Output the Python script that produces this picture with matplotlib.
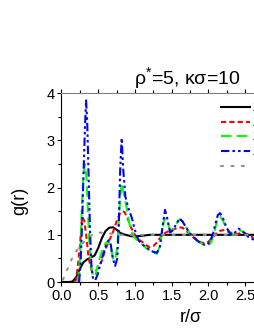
import matplotlib
matplotlib.use("Agg")
import matplotlib.pyplot as plt
from matplotlib.ticker import MultipleLocator, FormatStrFormatter

plt.rcParams['font.family'] = ['Liberation Sans', 'DejaVu Sans']
plt.rcParams['mathtext.fontset'] = 'custom'
plt.rcParams['mathtext.rm'] = 'Liberation Sans'

labels = ["Z=1", "Z=2", "Z=3", "Z=4", "HNC"]

x_black = [0, 0.1, 0.15, 0.2, 0.25, 0.3, 0.35, 0.4, 0.45, 0.5, 0.55, 0.6, 0.65, 0.7, 0.75,
           0.8, 0.85, 0.9, 0.95, 1.0, 1.1, 1.2, 1.4, 1.6, 1.8, 2.0, 2.2, 2.4, 2.6, 2.8, 3.0, 3.5]
y_black = [0, 0, 0.01, 0.1, 0.28, 0.42, 0.48, 0.52, 0.56, 0.72, 0.93, 1.08, 1.15, 1.16, 1.11,
           1.04, 1.01, 0.99, 0.97, 0.97, 0.98, 1.0, 1.0, 1.0, 1.0, 1.0, 1.0, 1.0, 1.0, 1.0, 1.0, 1.0]

x_red = [0.18, 0.2, 0.22, 0.25, 0.28, 0.31, 0.34, 0.37, 0.41, 0.46, 0.5, 0.55, 0.6, 0.65, 0.7,
         0.75, 0.8, 0.83, 0.86, 0.9, 0.95, 1.0, 1.05, 1.1, 1.15, 1.2, 1.25, 1.3, 1.35, 1.4, 1.45,
         1.5, 1.55, 1.6, 1.65, 1.7, 1.75, 1.8, 1.85, 1.9, 1.95, 2.0, 2.05, 2.1, 2.15, 2.2, 2.25,
         2.3, 2.35, 2.4, 2.45, 2.5, 2.55, 2.6, 2.65, 2.7]
y_red = [0, 0.05, 0.3, 0.75, 1.38, 1.3, 0.95, 0.5, 0.25, 0.22, 0.3, 0.45, 0.7, 0.88, 1.05,
         1.28, 1.47, 1.5, 1.48, 1.35, 1.15, 1.0, 0.9, 0.85, 0.78, 0.74, 0.76, 0.84, 0.95, 1.03, 1.07,
         1.1, 1.13, 1.16, 1.15, 1.08, 1.02, 0.94, 0.88, 0.84, 0.82, 0.85, 0.93, 1.02, 1.08, 1.1, 1.08,
         1.05, 1.02, 1.02, 1.04, 1.03, 1.0, 0.95, 0.9, 0.88]

x_green = [0.22, 0.24, 0.26, 0.28, 0.3, 0.32, 0.34, 0.36, 0.38, 0.4, 0.43, 0.46, 0.5, 0.55, 0.6,
           0.64, 0.67, 0.7, 0.73, 0.76, 0.78, 0.8, 0.82, 0.85, 0.89, 0.93, 0.97, 1.02, 1.06, 1.1,
           1.15, 1.2, 1.25, 1.3, 1.34, 1.37, 1.4, 1.44, 1.48, 1.52, 1.56, 1.61, 1.65, 1.7, 1.75,
           1.8, 1.85, 1.9, 1.95, 2.0, 2.04, 2.08, 2.12, 2.16, 2.2, 2.25, 2.3, 2.34, 2.38, 2.42,
           2.46, 2.5, 2.55, 2.6, 2.65, 2.7]
y_green = [0, 0.2, 0.8, 1.7, 2.3, 2.5, 2.2, 1.5, 0.8, 0.35, 0.12, 0.12, 0.4, 0.65, 0.82,
           0.88, 0.75, 0.5, 0.45, 0.75, 1.3, 1.8, 2.1, 1.85, 1.55, 1.2, 1.0, 0.9, 0.85, 0.8,
           0.72, 0.67, 0.62, 0.6, 0.75, 1.05, 1.35, 1.3, 1.1, 1.12, 1.22, 1.33, 1.28, 1.15, 1.02,
           0.93, 0.87, 0.82, 0.78, 0.77, 0.85, 1.05, 1.3, 1.39, 1.3, 1.12, 1.02, 1.0, 1.05, 1.1,
           1.08, 1.02, 0.95, 0.92, 0.9, 0.9]

x_blue = [0.24, 0.26, 0.28, 0.3, 0.32, 0.335, 0.35, 0.37, 0.39, 0.41, 0.43, 0.46, 0.49, 0.52,
          0.56, 0.6, 0.64, 0.67, 0.7, 0.73, 0.76, 0.78, 0.8, 0.82, 0.84, 0.87, 0.91, 0.96, 1.0,
          1.05, 1.1, 1.15, 1.2, 1.25, 1.3, 1.34, 1.37, 1.41, 1.44, 1.48, 1.52, 1.56, 1.61, 1.65,
          1.7, 1.75, 1.8, 1.85, 1.9, 1.95, 1.98, 2.02, 2.06, 2.1, 2.13, 2.16, 2.2, 2.25, 2.3,
          2.34, 2.38, 2.41, 2.45, 2.5, 2.55, 2.6, 2.65, 2.7]
y_blue = [0, 0.4, 1.2, 2.3, 3.3, 3.85, 3.4, 2.2, 1.0, 0.3, 0.06, 0.04, 0.15, 0.32,
          0.55, 0.75, 0.88, 0.8, 0.5, 0.34, 0.5, 1.2, 2.4, 3.05, 2.4, 1.81, 1.57, 1.35, 1.1,
          0.88, 0.8, 0.74, 0.68, 0.64, 0.62, 0.75, 1.1, 1.53, 1.35, 1.05, 1.1, 1.22, 1.35, 1.28,
          1.15, 1.03, 0.95, 0.88, 0.82, 0.79, 0.78, 0.85, 1.0, 1.25, 1.42, 1.46, 1.35, 1.15, 1.02,
          1.0, 1.08, 1.13, 1.1, 1.03, 0.95, 0.91, 0.88, 0.88]

x_gray = [0.02, 0.05, 0.1, 0.15, 0.2, 0.25, 0.3, 0.35, 0.4, 0.45, 0.5, 0.6, 0.7, 0.8, 0.9,
          1.0, 1.2, 1.5, 2.0, 2.5, 3.0, 3.5]
y_gray = [0.05, 0.15, 0.35, 0.52, 0.65, 0.76, 0.84, 0.92, 0.98, 1.03, 1.05, 1.04, 1.02, 1.0, 1.0,
          1.0, 1.0, 1.0, 1.0, 1.0, 1.0, 1.0]

W, H = 255, 330
fig = plt.figure(figsize=(W / 100, H / 100), dpi=100)
x0, x1 = 61.5, 318.4
ytop, ybot = 93.3, 282.0
ax = fig.add_axes([x0 / W, 1 - ybot / H, (x1 - x0) / W, (ybot - ytop) / H])

lw = 1.5
ax.plot(x_black, y_black, color='black', lw=lw, label=labels[0], zorder=3)
ax.plot(x_red, y_red, color='#ff0000', lw=lw, ls=(0, (2.5, 1.5)), label=labels[1], zorder=4)
ax.plot(x_green, y_green, color='#00ff00', lw=lw, ls=(0, (5, 2.5)), label=labels[2], zorder=5)
ax.plot(x_blue, y_blue, color='#0000ff', lw=lw, ls=(0, (4, 1.5, 1.2, 1.5, 1.2, 1.5)),
        label=labels[3], zorder=6)
ax.plot(x_gray, y_gray, color='#909090', lw=lw, ls=(0, (1, 4)), dash_capstyle='round',
        label=labels[4], zorder=7)

ax.set_xlim(0, 3.5)
ax.set_ylim(0, 4)
ax.xaxis.set_major_locator(MultipleLocator(0.5))
ax.xaxis.set_minor_locator(MultipleLocator(0.25))
ax.xaxis.set_major_formatter(FormatStrFormatter('%.1f'))
ax.yaxis.set_major_locator(MultipleLocator(1))
ax.yaxis.set_minor_locator(MultipleLocator(0.5))
ax.tick_params(axis='both', which='major', labelsize=10.5, direction='out', length=3, width=0.8, pad=2)
ax.tick_params(axis='both', which='minor', direction='out', length=2, width=0.8)
ax.tick_params(axis='x', which='both', top=True)
ax.spines['right'].set_visible(False)
ax.spines['top'].set_color('#808080')
ax.spines['left'].set_linewidth(0.8)
ax.spines['bottom'].set_linewidth(0.8)

fig.text(187 / W, 1 - 85 / H, 'ρ$^{*}$=5, κσ=10', ha='center', va='baseline', fontsize=14)
fig.text(20 / W, 1 - 201 / H, 'g(r)', rotation=90, ha='center', va='center', fontsize=13)
fig.text(191 / W, 1 - 318 / H, 'r/σ', ha='center', va='center', fontsize=13)

leg = ax.legend(loc='upper left', bbox_to_anchor=(221 / W, 1 - 103 / H),
                bbox_transform=fig.transFigure, frameon=False, fontsize=8,
                handlelength=2.6, handletextpad=0.25, labelspacing=0.42, borderpad=0,
                borderaxespad=0)

fig.savefig('out.png', dpi=100)
